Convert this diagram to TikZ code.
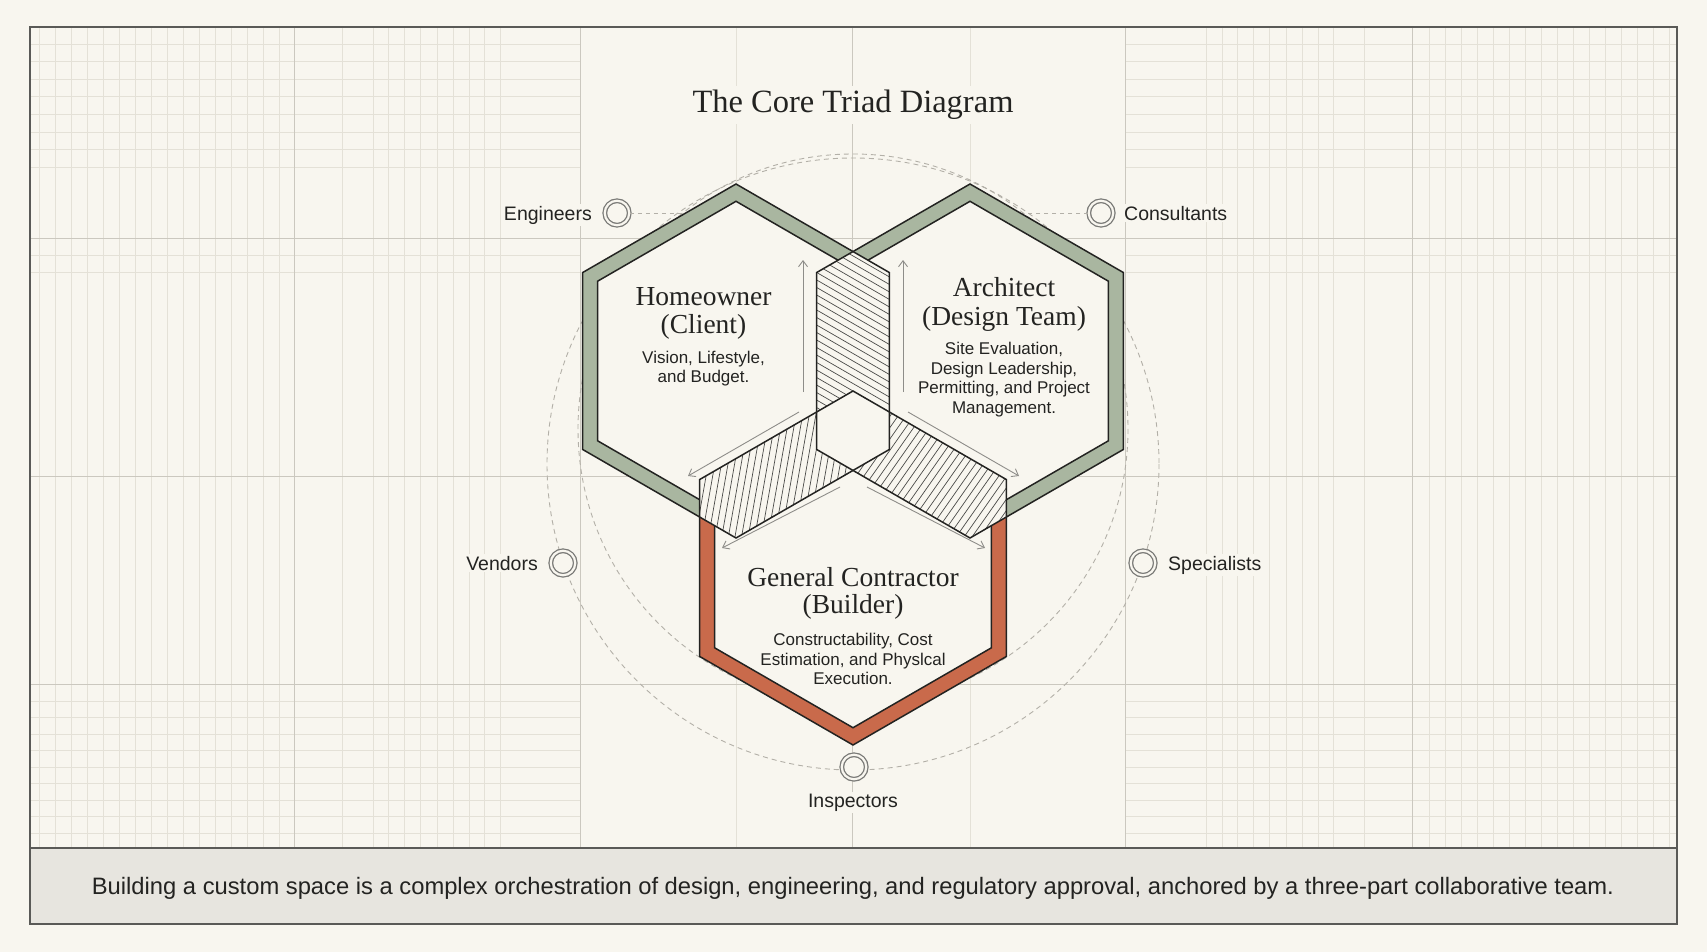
\documentclass[tikz,border=0pt]{standalone}
\usepackage{fontspec}
\newfontfamily\sansf{Liberation Sans}
\newfontfamily\headserif{Liberation Serif}
\usetikzlibrary{arrows.meta}
\definecolor{bgc}{HTML}{F8F6EF}
\definecolor{gridfine}{HTML}{E4E1D7}
\definecolor{gridmajor}{HTML}{CBC8BF}
\definecolor{framec}{HTML}{5A5A57}
\definecolor{sage}{HTML}{A9B6A0}
\definecolor{terra}{HTML}{C96A4B}
\definecolor{ink}{HTML}{232321}
\definecolor{capfill}{HTML}{E7E5DF}
\definecolor{ringc}{HTML}{B3B0A8}
\definecolor{markc}{HTML}{7A7A77}
\definecolor{arrowc}{HTML}{8E8D89}
\definecolor{hatchc}{HTML}{4A4A48}
\newcommand{\hexpath}[1]{(30:#1) -- (90:#1) -- (150:#1) -- (210:#1) -- (270:#1) -- (330:#1) -- cycle}
\newcommand{\drawhex}[2]{%
  \fill[#2, shift={#1}] \hexpath{177};
  \fill[bgc, shift={#1}] \hexpath{159.7};
  \draw[outline, shift={#1}] \hexpath{159.7};
}
\tikzset{
  finegrid/.style={draw=gridfine, line width=0.8pt},
  majorgrid/.style={draw=gridmajor, line width=1pt},
  ring/.style={draw=ringc, dash pattern=on 5pt off 4pt, line width=0.9pt},
  connector/.style={draw=ringc, dash pattern=on 4pt off 4pt, line width=0.9pt},
  marker/.style={circle, minimum size=24.5pt, inner sep=0pt, draw=markc, line width=1.3pt, double=bgc, double distance=2.2pt, fill=bgc},
  marklabel/.style={font=\sansf\fontsize{19.5}{23}\selectfont, text=ink, fill=bgc, inner sep=2pt},
  hexhead/.style={font=\headserif\fontsize{27.5}{32}\selectfont, text=ink, inner sep=0pt, anchor=base},
  hexdesc/.style={font=\sansf\fontsize{17}{20}\selectfont, text=ink, inner sep=0pt, anchor=base},
  hatchline/.style={draw=hatchc, line width=0.7pt},
  outline/.style={draw=ink, line width=1.5pt, line join=miter},
  flow/.style={draw=arrowc, line width=0.9pt, -{Straight Barb[length=6pt,width=9pt]}},
}
\begin{document}
\begin{tikzpicture}[x=1pt,y=-1pt]
\useasboundingbox (0,0) rectangle (1707,952);
\fill[bgc] (0,0) rectangle (1707,952);
% ---------- grid ----------
\foreach \x in {39,55,...,279} \draw[finegrid] (\x,27) -- (\x,848);
\foreach \x in {1429,1445,...,1669} \draw[finegrid] (\x,27) -- (\x,848);
\foreach \x in {342,373,388,404,420,437,453,469,484,500} {
  \draw[finegrid] (\x,27) -- (\x,848);
  \draw[finegrid] ({1706-\x},27) -- ({1706-\x},848);
}
\foreach \i in {0,...,7} {
  \draw[finegrid] (30,{44+\i*17.6}) -- (580,{44+\i*17.6});
  \draw[finegrid] (1125,{44+\i*17.6}) -- (1677,{44+\i*17.6});
}
\foreach \i in {0,...,8} {
  \draw[finegrid] (30,{701+\i*16.5}) -- (580,{701+\i*16.5});
  \draw[finegrid] (1125,{701+\i*16.5}) -- (1677,{701+\i*16.5});
}
\foreach \y in {255,272} {
  \draw[finegrid] (30,\y) -- (580,\y);
  \draw[finegrid] (1125,\y) -- (1677,\y);
}
\foreach \x in {736,970} \draw[finegrid] (\x,27) -- (\x,848);
\foreach \x in {294,580,852,1125,1412} \draw[majorgrid] (\x,27) -- (\x,848);
\foreach \y in {238,476,684} \draw[majorgrid] (30,\y) -- (1677,\y);
% ---------- caption band and frame ----------
\fill[capfill] (30,848) rectangle (1677,924);
\draw[framec, line width=1.3pt] (30,848) -- (1677,848);
\draw[framec, line width=1.6pt] (30,27) rectangle (1677,924);
% ---------- dashed rings ----------
\draw[ring] (853,464) circle[radius=306];
\draw[ring] (853,429) circle[radius=275];
% ---------- markers ----------
\node[marker] (eng) at (617,213) {};
\node[marker] (cons) at (1101,213) {};
\node[marker] (vend) at (563,563) {};
\node[marker] (spec) at (1143,563) {};
\node[marker] (insp) at (854,767) {};
\coordinate (engEnd) at (686,213);
\coordinate (consEnd) at (1020,213);
\draw[connector] (eng) -- (engEnd);
\draw[connector] (cons) -- (consEnd);
% ---------- hexagons ----------
\drawhex{(736,361)}{sage}
\drawhex{(970,361)}{sage}
\drawhex{(853,568)}{terra}
% ---------- overlap strips ----------
\begin{scope}
  \clip[shift={(736,361)}] \hexpath{177};
  \clip[shift={(970,361)}] \hexpath{177};
  \fill[bgc] (500,150) rectangle (1200,800);
  \foreach \k in {-30,...,30} \draw[hatchline, shift={(853,361)}, rotate=-30] (-260,{\k*6.5}) -- (260,{\k*6.5});
\end{scope}
\begin{scope}
  \clip[shift={(736,361)}] \hexpath{177};
  \clip[shift={(853,568)}] \hexpath{177};
  \fill[bgc] (500,150) rectangle (1200,800);
  \foreach \k in {-30,...,30} \draw[hatchline, shift={(794,464)}, rotate=80] (-260,{\k*6.5}) -- (260,{\k*6.5});
\end{scope}
\begin{scope}
  \clip[shift={(970,361)}] \hexpath{177};
  \clip[shift={(853,568)}] \hexpath{177};
  \fill[bgc] (500,150) rectangle (1200,800);
  \foreach \k in {-30,...,30} \draw[hatchline, shift={(912,464)}, rotate=55] (-260,{\k*6.5}) -- (260,{\k*6.5});
\end{scope}
\begin{scope}
  \clip[shift={(736,361)}] \hexpath{177};
  \clip[shift={(970,361)}] \hexpath{177};
  \clip[shift={(853,568)}] \hexpath{177};
  \fill[bgc] (500,150) rectangle (1200,800);
\end{scope}
\draw[outline, shift={(736,361)}] \hexpath{177};
\draw[outline, shift={(970,361)}] \hexpath{177};
\draw[outline, shift={(853,568)}] \hexpath{177};
% ---------- flow arrows ----------
\coordinate (a1s) at (803,392); \coordinate (a1e) at (803,260);
\coordinate (a2s) at (903,392); \coordinate (a2e) at (903,260);
\coordinate (a3s) at (799,412); \coordinate (a3e) at (688,476);
\coordinate (a4s) at (840,487); \coordinate (a4e) at (722,548);
\coordinate (a5s) at (908,412); \coordinate (a5e) at (1019,476);
\coordinate (a6s) at (867,487); \coordinate (a6e) at (985,548);
\draw[flow] (a1s) -- (a1e);
\draw[flow] (a2s) -- (a2e);
\draw[flow] (a3s) -- (a3e);
\draw[flow] (a4s) -- (a4e);
\draw[flow] (a5s) -- (a5e);
\draw[flow] (a6s) -- (a6e);
% ---------- texts ----------
\node[font=\headserif\fontsize{32.5}{38}\selectfont, text=ink, fill=bgc, inner sep=4pt, anchor=base] (title) at (853,113) {The Core Triad Diagram};
\node[hexhead] (h1) at (703.5,305) {Homeowner};
\node[hexhead] (h2) at (703.5,333) {(Client)};
\node[hexdesc] (h3) at (703.5,363) {Vision, Lifestyle,};
\node[hexdesc] (h4) at (703.5,382) {and Budget.};
\node[hexhead] (r1) at (1004,296) {Architect};
\node[hexhead] (r2) at (1004,325) {(Design Team)};
\node[hexdesc] (r3) at (1004,354) {Site Evaluation,};
\node[hexdesc] (r4) at (1004,374) {Design Leadership,};
\node[hexdesc] (r5) at (1004,393) {Permitting, and Project};
\node[hexdesc] (r6) at (1004,413) {Management.};
\node[hexhead] (g1) at (853,586) {General Contractor};
\node[hexhead] (g2) at (853,613) {(Builder)};
\node[hexdesc] (g3) at (853,645) {Constructability, Cost};
\node[hexdesc] (g4) at (853,665) {Estimation, and Physlcal};
\node[hexdesc] (g5) at (853,684) {Execution.};
\node[marklabel, anchor=base east] (engL) at (594,220) {Engineers};
\node[marklabel, anchor=base west] (consL) at (1122,220) {Consultants};
\node[marklabel, anchor=base east] (vendL) at (540,570) {Vendors};
\node[marklabel, anchor=base west] (specL) at (1166,570) {Specialists};
\node[marklabel, anchor=base] (inspL) at (853,807) {Inspectors};
\node[font=\sansf\fontsize{23.75}{28}\selectfont, text=ink, inner sep=0pt, anchor=base] (cap) at (853,894) {Building a custom space is a complex orchestration of design, engineering, and regulatory approval, anchored by a three-part collaborative team.};
\end{tikzpicture}
\end{document}
